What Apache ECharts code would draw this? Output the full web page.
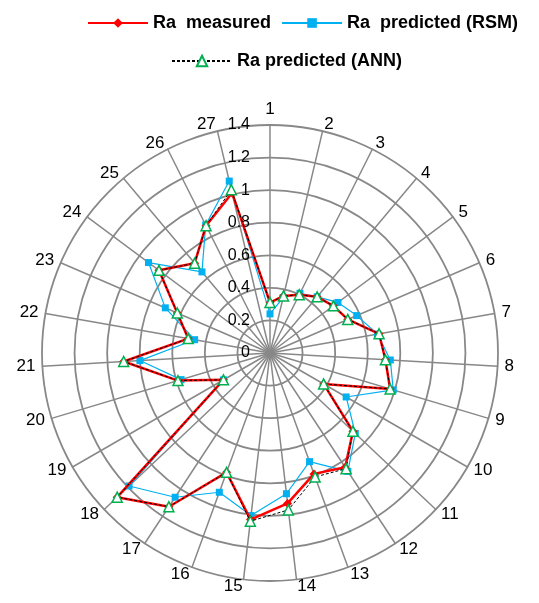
<!DOCTYPE html>
<html><head><meta charset="utf-8">
<script src="https://cdn.jsdelivr.net/npm/echarts@6/dist/echarts.min.js"></script>
<style>html,body{margin:0;padding:0;background:#fff}#c{width:539px;height:603px}</style>
</head><body><div id="c"></div>
<script>
const categories = ['1','2','3','4','5','6','7','8','9','10','11','12','13','14','15','16','17','18','19','20','21','22','23','24','25','26','27'];
const measured = [0.31,0.36,0.40,0.45,0.485,0.52,0.68,0.71,0.77,0.38,0.70,0.84,0.79,0.93,1.03,0.78,1.13,1.29,0.33,0.59,0.90,0.51,0.62,0.85,0.72,0.875,1.01];
const rsm      = [0.24,0.35,0.41,0.45,0.52,0.58,0.67,0.74,0.79,0.54,0.72,0.87,0.71,0.87,1.005,0.91,1.06,1.19,0.33,0.57,0.80,0.47,0.70,0.93,0.65,0.88,1.085];
const ann      = [0.31,0.36,0.40,0.45,0.485,0.52,0.68,0.71,0.77,0.38,0.70,0.85,0.81,0.97,1.04,0.78,1.13,1.29,0.33,0.59,0.90,0.51,0.62,0.85,0.72,0.875,1.03];
const seriesNames = ['Ra  measured','Ra  predicted (RSM)','Ra predicted (ANN)'];
const axisMin = 0, axisMax = 1.4, splitCount = 7;

// radar goes counter-clockwise; reorder so the chart reads clockwise
const order = [0].concat(categories.map((_, i) => i).slice(1).reverse());
const reorder = arr => order.map(i => arr[i]);

const indicator = reorder(categories).map((n, k) => {
  const o = { name: n, min: axisMin, max: axisMax };
  if (k === 0) o.axisLabel = { show: true };
  return o;
});

const styles = [
  { symbol: 'diamond', symbolSize: 9, itemStyle: { color: '#FF0000' }, lineStyle: { color: '#FF0000', width: 2.5 } },
  { symbol: 'rect', symbolSize: 7, itemStyle: { color: '#00B0F0' }, lineStyle: { color: '#00B0F0', width: 1.2 } },
  { symbol: 'triangle', symbolSize: 10, itemStyle: { color: '#fff', borderColor: '#00B050', borderWidth: 1.5 },
    lineStyle: { color: '#000', width: 1, type: [3, 2] } }
];
const values = [measured, rsm, ann];
const zs = [3, 2, 4];

const legendText = { fontFamily: 'Liberation Sans', fontWeight: 'bold', fontSize: 18, color: '#000' };

// legend proxies (line series give line+marker legend icons)
const legendSeries = seriesNames.map((n, i) => Object.assign({
  name: n, type: 'line', xAxisIndex: 0, yAxisIndex: 0, data: [], silent: true
}, styles[i]));
const radarSeries = seriesNames.map((n, i) => Object.assign({
  name: n, type: 'radar', z: zs[i],
  data: [{ value: reorder(values[i]), name: n }]
}, styles[i]));

const chart = echarts.init(document.getElementById('c'));
chart.setOption({
  animation: false,
  grid: { show: false, left: 0, top: 0, width: 1, height: 1 },
  xAxis: { show: false, type: 'category', data: [] },
  yAxis: { show: false, type: 'value' },
  legend: [
    { data: [seriesNames[0], seriesNames[1]], left: 82, top: 9, itemWidth: 60, itemHeight: 12, itemGap: 10,
      textStyle: legendText },
    { data: [seriesNames[2]], left: 166, top: 47, itemWidth: 60, itemHeight: 13,
      textStyle: legendText }
  ],
  radar: {
    center: [270, 353],
    radius: 228,
    shape: 'circle',
    splitNumber: splitCount,
    indicator: indicator,
    axisName: { color: '#000', fontSize: 17, fontFamily: 'Liberation Sans' },
    nameGap: 7,
    splitArea: { show: false },
    splitLine: { lineStyle: { color: '#888', width: 1.8 } },
    axisLine: { lineStyle: { color: '#888', width: 1.5 } },
    axisTick: { show: false },
    axisLabel: { show: false, color: '#000', fontSize: 16, fontFamily: 'Liberation Sans', margin: 20,
      formatter: v => String(parseFloat(Number(v).toFixed(2))) }
  },
  series: legendSeries.concat([radarSeries[1], radarSeries[0], radarSeries[2]])
});
</script></body></html>
